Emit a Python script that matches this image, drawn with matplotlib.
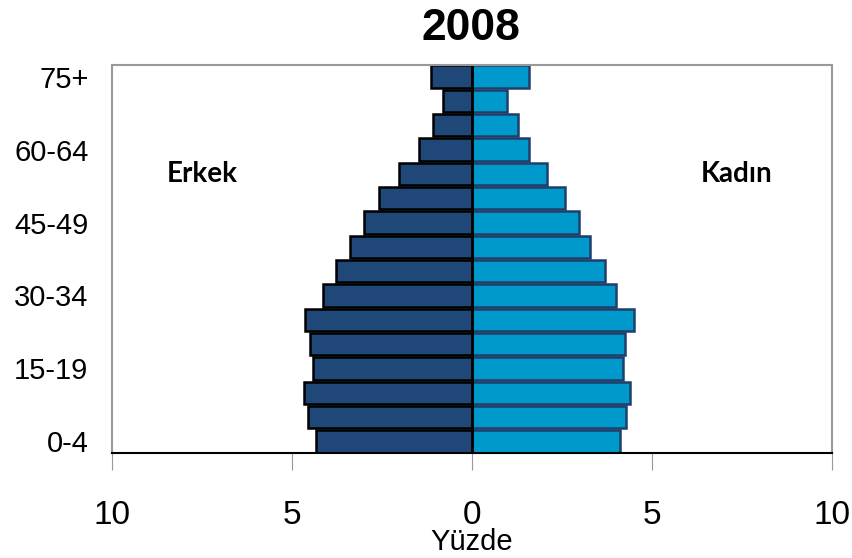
import matplotlib
matplotlib.use("Agg")
import matplotlib.pyplot as plt
import numpy as np

plt.rcParams['font.family'] = ['Liberation Sans', 'DejaVu Sans']

# age groups, bottom to top
ages = ['0-4', '5-9', '10-14', '15-19', '20-24', '25-29', '30-34', '35-39',
        '40-44', '45-49', '50-54', '55-59', '60-64', '65-69', '70-74', '75+']
# percent of population
erkek = [4.32, 4.55, 4.67, 4.43, 4.51, 4.65, 4.14, 3.77,
         3.40, 3.01, 2.58, 2.03, 1.47, 1.08, 0.81, 1.13]
kadin = [4.10, 4.27, 4.40, 4.20, 4.24, 4.49, 4.01, 3.69,
         3.27, 2.98, 2.58, 2.07, 1.58, 1.28, 0.96, 1.58]

y = np.arange(len(ages))

fig = plt.figure(figsize=(8.52, 5.58), dpi=100)
ax = fig.add_axes([112 / 852, 1 - 453 / 558, 720 / 852, 388 / 558])

ax.barh(y, -np.array(erkek), height=0.92, color='#1f4778', edgecolor='black', linewidth=1.8)
ax.barh(y, kadin, height=0.92, color='#0099cc', edgecolor='#1f3f6a', linewidth=1.8)
ax.axvline(0, color='black', linewidth=2)

ax.set_xlim(-10, 10)
ax.set_ylim(-0.48, 15.48)

ax.set_xticks([-10, -5, 0, 5, 10])
ax.set_xticklabels(['10', '5', '0', '5', '10'], fontsize=24)
ax.set_yticks(y[::3])
ax.set_yticklabels(ages[::3], fontsize=21)
ax.tick_params(axis='x', length=12, color='#999999', pad=22)
ax.tick_params(axis='y', length=0, pad=17)

for s in ['top', 'right', 'left']:
    ax.spines[s].set_color('#999999')
    ax.spines[s].set_linewidth(1.5)
ax.spines['bottom'].set_color('black')
ax.spines['bottom'].set_linewidth(1.5)

ax.set_xlabel('Yüzde', fontsize=21, labelpad=-2)
fig.text(471 / 852, 1 - 28 / 558, '2008', ha='center', va='center', fontsize=32, fontweight='bold')

ax.text(-7.5, 11.0, 'Erkek', fontsize=20, fontweight='bold', family=['Lato', 'DejaVu Sans'],
        ha='center', va='center')
ax.text(7.35, 11.0, 'Kadın', fontsize=20, fontweight='bold', family=['Lato', 'DejaVu Sans'],
        ha='center', va='center')

fig.savefig('out.png', dpi=100)
